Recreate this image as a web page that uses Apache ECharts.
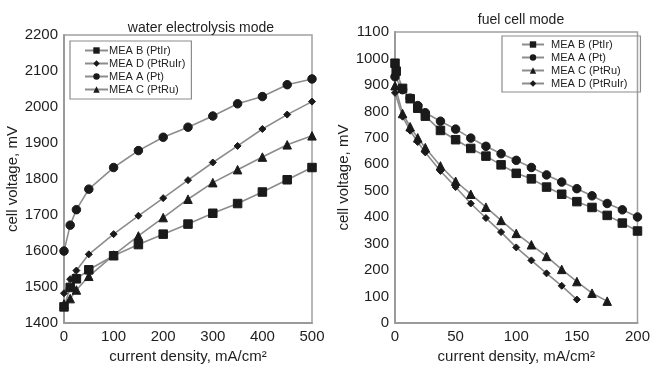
<!DOCTYPE html>
<html>
<head>
<meta charset="utf-8">
<script src="https://cdn.jsdelivr.net/npm/echarts@6/dist/echarts.min.js"></script>
<style>
  html, body { margin: 0; padding: 0; background: #fff; }
  #main { width: 653px; height: 369px; }
</style>
</head>
<body>
<div id="main"></div>
<script>
// water electrolysis mode (left)
const elX = [0, 12.5, 25, 50, 100, 150, 200, 250, 300, 350, 400, 450, 500];
const elB = [1445, 1499, 1523, 1548, 1587, 1618, 1647, 1675, 1705, 1732, 1764, 1798, 1832];
const elD = [1483, 1522, 1546, 1591, 1647, 1698, 1747, 1797, 1846, 1892, 1939, 1979, 2015];
const elA = [1600, 1672, 1715, 1772, 1832, 1879, 1916, 1944, 1975, 2009, 2029, 2062, 2078];
const elC = [1453, 1468, 1492, 1530, 1589, 1642, 1693, 1744, 1790, 1826, 1861, 1895, 1920];

// fuel cell mode (right)
const fcXB = [0, 1, 6.25, 12.5, 18.75, 25, 37.5, 50, 62.5, 75, 87.5, 100, 112.5, 125, 137.5, 150, 162.5, 175, 187.5, 200];
const fcB = [982, 952, 887, 848, 812, 782, 728, 693, 660, 631, 598, 566, 545, 514, 487, 459, 437, 407, 378, 348];
const fcXA = [0, 6.25, 12.5, 18.75, 25, 37.5, 50, 62.5, 75, 87.5, 100, 112.5, 125, 137.5, 150, 162.5, 175, 187.5, 200];
const fcA = [931, 882, 850, 822, 795, 763, 733, 699, 668, 640, 615, 588, 560, 533, 508, 481, 452, 428, 401];
const fcXC = [0, 6.25, 12.5, 18.75, 25, 37.5, 50, 62.5, 75, 87.5, 100, 112.5, 125, 137.5, 150, 162.5, 175];
const fcC = [897, 792, 742, 700, 663, 594, 536, 487, 438, 388, 339, 296, 252, 203, 157, 113, 83];
const fcXD = [0, 6.25, 12.5, 18.75, 25, 37.5, 50, 62.5, 75, 87.5, 100, 112.5, 125, 137.5, 150];
const fcD = [870, 780, 727, 684, 645, 575, 514, 452, 397, 344, 286, 237, 188, 141, 89];

const zip = (xs, ys) => xs.map((x, i) => [x, ys[i]]);

const font = 'Liberation Sans, Arial, sans-serif';
const textCol = '#1e1e1e';
const lineCol = '#8c8c8c';
const markCol = '#1a1a1a';

const mk = (name, symbol, size, data, idx) => ({
  type: 'line',
  name: name,
  xAxisIndex: idx,
  yAxisIndex: idx,
  data: data,
  symbol: symbol,
  symbolSize: size,
  showAllSymbol: true,
  animation: false,
  lineStyle: { color: lineCol, width: 1.6 },
  itemStyle: { color: markCol, borderColor: markCol },
  emphasis: { disabled: true }
});

const axisBase = {
  axisLine: { show: true, lineStyle: { color: '#9a9a9a', width: 2 } },
  axisTick: { show: false },
  splitLine: { show: false },
  axisLabel: { color: textCol, fontFamily: font, fontSize: 15, margin: 6, formatter: v => String(v) },
  nameTextStyle: { color: textCol, fontFamily: font, fontSize: 15 },
  nameLocation: 'middle'
};

const legendBase = {
  orient: 'vertical',
  itemHeight: 8,
  itemGap: 2,
  borderColor: '#8c8c8c',
  borderWidth: 1.2,
  borderRadius: 0,
  selectedMode: false
};

const chart = echarts.init(document.getElementById('main'));

chart.setOption({
  backgroundColor: '#fff',
  animation: false,
  title: [
    { text: 'water electrolysis mode', left: 196, top: 16, textAlign: 'center',
      textStyle: { color: textCol, fontFamily: font, fontSize: 14, fontWeight: 'normal' } },
    { text: 'fuel cell mode', left: 516, top: 8, textAlign: 'center',
      textStyle: { color: textCol, fontFamily: font, fontSize: 14, fontWeight: 'normal' } }
  ],
  legend: [
    Object.assign({}, legendBase, {
      left: 70, top: 41, padding: [4, 6, 4, 14], itemWidth: 23,
      textStyle: { color: textCol, fontFamily: font, fontSize: 11, padding: [0, 0, 0, -4] },
      data: ['MEA B (PtIr)', 'MEA D (PtRuIr)', 'MEA A (Pt)', 'MEA C (PtRu)']
    }),
    Object.assign({}, legendBase, {
      left: 502, top: 36, padding: [3, 10, 3, 19], itemWidth: 22,
      textStyle: { color: textCol, fontFamily: font, fontSize: 11, padding: [0, 0, 0, 2] },
      data: ['MEA B (PtIr) ', 'MEA A (Pt) ', 'MEA C (PtRu) ', 'MEA D (PtRuIr) ']
    })
  ],
  grid: [
    { left: 64, top: 35, width: 248, height: 296, show: true, borderColor: '#a0a0a0', borderWidth: 1.5 },
    { left: 395, top: 32, width: 247, height: 297, show: true, borderColor: '#a0a0a0', borderWidth: 1.5 }
  ],
  xAxis: [
    Object.assign({}, axisBase, { type: 'value', gridIndex: 0, min: 0, max: 500, interval: 100,
      name: 'current density, mA/cm²', nameGap: 24 }),
    Object.assign({}, axisBase, { type: 'value', gridIndex: 1, min: 0, max: 200, interval: 50,
      name: 'current density, mA/cm²', nameGap: 24 })
  ],
  yAxis: [
    Object.assign({}, axisBase, { type: 'value', gridIndex: 0, min: 1400, max: 2200, interval: 100,
      name: 'cell voltage, mV', nameGap: 36 }),
    Object.assign({}, axisBase, { type: 'value', gridIndex: 1, min: 0, max: 1100, interval: 100,
      name: 'cell voltage, mV', nameGap: 41 })
  ],
  series: [
    mk('MEA B (PtIr)', 'rect', 8.5, zip(elX, elB), 0),
    mk('MEA D (PtRuIr)', 'diamond', 7, zip(elX, elD), 0),
    mk('MEA A (Pt)', 'circle', 8.5, zip(elX, elA), 0),
    mk('MEA C (PtRu)', 'triangle', 8.5, zip(elX, elC), 0),
    mk('MEA B (PtIr) ', 'rect', 8.5, zip(fcXB, fcB), 1),
    mk('MEA A (Pt) ', 'circle', 8.5, zip(fcXA, fcA), 1),
    mk('MEA C (PtRu) ', 'triangle', 8.5, zip(fcXC, fcC), 1),
    mk('MEA D (PtRuIr) ', 'diamond', 7, zip(fcXD, fcD), 1)
  ]
});
</script>
</body>
</html>
